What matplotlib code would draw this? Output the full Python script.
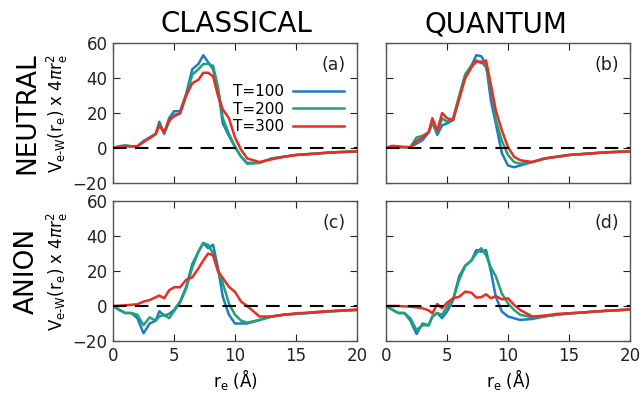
import matplotlib
matplotlib.use("Agg")
import matplotlib.pyplot as plt

# ---------------------------------------------------------------------------
# Data (r_e in Angstrom)
# ---------------------------------------------------------------------------
r = [0, 0.5, 1, 1.5, 2, 2.5, 3, 3.5, 3.8, 4.2, 4.6, 5, 5.5, 6, 6.5, 7, 7.4,
     7.8, 8.2, 8.6, 9, 9.5, 10, 10.5, 11, 12, 13, 14, 15, 16, 17, 18, 19, 20]

temps = ["T=100", "T=200", "T=300"]

# (a) classical, neutral
a_t100 = [0, 1, 1.5, 1, 1, 4, 6, 8, 15, 8, 17, 21, 21, 31, 45, 48, 53, 49, 45, 34,
          14, 7, 0.5, -5, -8.5, -8.5, -6, -5, -4, -3.5, -3, -2.5, -2.2, -2]
a_t200 = [0, 0.8, 1.2, 1, 1, 3.5, 6, 8, 13, 8.5, 15, 19, 19.5, 30, 42, 45, 48, 48,
          47, 35, 17, 8, 1, -5, -9, -8.5, -6, -5, -4, -3.5, -3, -2.5, -2.2, -2]
a_t300 = [0, 0.5, 1, 1, 1, 3.5, 5.5, 8, 13, 9, 16, 18, 20, 30, 37, 39, 43, 43, 41,
          30, 22, 17, 6, -1, -6, -8, -6.5, -5, -4, -3.5, -3, -2.5, -2.2, -2]

# (b) quantum, neutral
b_t100 = [0, 1, 0.5, 0.5, 0.5, 2.5, 4.5, 9, 15, 7.5, 13, 14, 16, 29, 42, 47, 53,
          52.5, 48, 27, 14, -3, -10, -11, -10, -8, -6, -5, -4, -3.5, -3, -2.5, -2.2, -2]
b_t200 = [0, 1, 0.5, 0.5, 0.5, 6, 7, 9, 14, 9, 17, 15, 17, 30, 42, 47, 49, 49.5,
          46, 35, 16, 4, -4, -8, -9, -8, -6, -5, -4, -3.5, -3, -2.5, -2.2, -2]
b_t300 = [0, 1.2, 1, 0.5, 0.5, 4, 6, 9, 17, 10, 20, 17, 16, 28, 40, 46, 50, 48.5,
          50, 36, 21.5, 10, 0.5, -5, -7, -8, -6, -5, -4, -3.5, -3, -2.5, -2.2, -2]

# (c) classical, anion
c_t100 = [0, -2.3, -4, -4, -7, -15.6, -10, -8.4, -3, -5.5, -4.5, -2.3, 2.5, 11, 24,
          31, 36, 33, 35, 22, 5.3, -5, -10, -10, -10, -8, -6, -5, -4.5, -4, -3.5,
          -3, -2.6, -2.3]
c_t200 = [0, -2, -4, -4, -5, -11, -6.5, -8.4, -6, -5, -7, -3, 2, 10, 22, 31, 36,
          35, 30, 20, 13, 1.5, -5, -8.4, -9.5, -8, -6, -5, -4.5, -4, -3.5, -3,
          -2.6, -2.3]
c_t300 = [0, 0.2, 0.4, 0.7, 1, 2.5, 3.4, 5, 6, 4.4, 9, 10.7, 10.7, 15, 16.4, 21.5,
          26, 30, 29, 20, 16, 11, 8, 2.5, 0, -6, -6, -5, -4.2, -3.8, -3.2, -2.8,
          -2.4, -2]

# (d) quantum, anion
d_t100 = [0, -2, -4, -4, -8.4, -16, -10, -11, -6, -4, -7, -3.2, 3.4, 17, 23, 26,
          32, 31, 32, 19.6, 5.3, -3.2, -6, -7, -8, -7.4, -6, -5, -4.2, -3.8, -3.2,
          -2.8, -2.4, -2]
d_t200 = [0, -2, -4, -4, -7, -13.7, -11, -11, -6, -4, -5, -0.4, 4, 15, 23, 26, 30,
          33, 29, 22, 17, 7, 1.5, -2.3, -5, -6.5, -5.8, -5, -4.2, -3.8, -3.2, -2.8,
          -2.4, -2]
d_t300 = [0, 0, 0, -0.2, -0.4, -0.8, -1.3, -2.5, -4.2, 1.1, -1.3, 1.9, 4.4, 5.3,
          8.2, 7.6, 4.8, 5, 6.7, 4.4, 5.7, 3.8, 4.4, 0.6, -2.3, -6, -5.5, -4.5,
          -4.2, -3.8, -3.2, -2.8, -2.4, -2]

colors = ["#1f7bc4", "#1ea374", "#ee2b22"]
W, H = 643, 395


def px_axes(fig, left, top, right, bottom):
    return fig.add_axes([left / W, 1 - bottom / H, (right - left) / W, (bottom - top) / H])


fig = plt.figure(figsize=(W / 100, H / 100), dpi=100)

panels = [
    ("(a)", (113, 43, 357, 183), (a_t100, a_t200, a_t300)),
    ("(b)", (386, 43, 630, 183), (b_t100, b_t200, b_t300)),
    ("(c)", (113, 201, 357, 341), (c_t100, c_t200, c_t300)),
    ("(d)", (386, 201, 630, 341), (d_t100, d_t200, d_t300)),
]

ylab = r"V$_{\rm e\text{-}W}$(r$_{\rm e}$) x 4$\pi$r$_{\rm e}^2$"

for i, (tag, box, series) in enumerate(panels):
    ax = px_axes(fig, *box)
    ax.axhline(0, color="black", lw=1.5, ls=(0, (6.5, 4)), zorder=3)
    for ys, c, lab in zip(series, colors, temps):
        ax.plot(r, ys, color=c, lw=1.8, label=lab, zorder=2)
    ax.set_xlim(0, 20)
    ax.set_ylim(-20, 60)
    ax.set_xticks([0, 5, 10, 15, 20])
    ax.set_yticks([-20, 0, 20, 40, 60])
    ax.tick_params(direction="in", top=True, right=True, length=5,
                   labelsize=12, colors="#222222", pad=4)
    for s in ax.spines.values():
        s.set_color("#555555")
        s.set_linewidth(1.0)
    ax.text(0.905, 0.84, tag, transform=ax.transAxes, ha="center", va="center",
            fontsize=12.5, color="#222222")
    if i % 2 == 1:
        ax.set_yticklabels([])
    else:
        ax.set_ylabel(ylab, fontsize=12, labelpad=2)
    if i < 2:
        ax.set_xticklabels([])
    else:
        ax.set_xlabel(r"r$_{\rm e}$ ($\rm\AA$)", fontsize=12, labelpad=2)
    if i == 0:
        ax.legend(loc="upper right", bbox_to_anchor=(0.99, 0.78), frameon=False,
                  markerfirst=False, fontsize=11, handlelength=3.3,
                  labelspacing=0.15, handletextpad=0.6, borderpad=0.2)

fig.text(236 / W, 1 - 24 / H, "CLASSICAL", ha="center", va="center", fontsize=20)
fig.text(496 / W, 1 - 24 / H, "QUANTUM", ha="center", va="center", fontsize=20)
fig.text(27 / W, 1 - 113 / H, "NEUTRAL", ha="center", va="center", fontsize=19,
         rotation=90)
fig.text(27 / W, 1 - 271 / H, "ANION", ha="center", va="center", fontsize=19,
         rotation=90)

fig.savefig("out.png", dpi=100)
